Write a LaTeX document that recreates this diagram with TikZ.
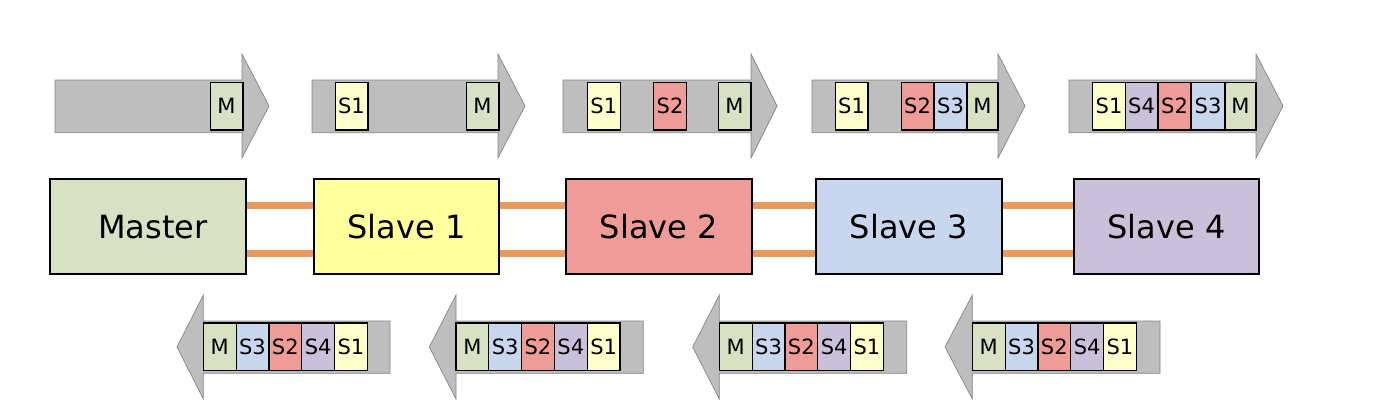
\documentclass[tikz,border=0pt]{standalone}
\usepackage{fontspec}
\setmainfont{DejaVu Sans}
\usetikzlibrary{calc}
\definecolor{cM}{HTML}{D8E1C4}
\definecolor{cSa}{HTML}{FFFFCC}
\definecolor{cSaBox}{HTML}{FFFF9E}
\definecolor{cSb}{HTML}{EF9C98}
\definecolor{cSc}{HTML}{C9D7EE}
\definecolor{cSd}{HTML}{C8C1D9}
\definecolor{arrfill}{HTML}{BEBEBE}
\definecolor{arrline}{HTML}{858585}
\definecolor{link}{HTML}{E89B5C}
\tikzset{
  arr/.style={fill=arrfill,draw=arrline,line width=0.7pt,line join=miter},
  pkt/.style={draw=black,line width=1.2pt,minimum width=32.8pt,minimum height=47.5pt,inner sep=0pt,font=\fontsize{21}{24}\selectfont},
  dev/.style={draw=black,line width=2pt,minimum height=95pt,inner sep=0pt,font=\fontsize{32}{36}\selectfont},
  lnk/.style={draw=link,line width=6.5pt},
}
\begin{document}
\begin{tikzpicture}[x=1pt,y=-1pt]
\useasboundingbox (0,0) rectangle (1380,407);
% ---- top arrows (right-pointing)
\foreach \L/\B/\T in {55/242/269, 312/498/525, 563/751/777, 812/998/1025, 1069/1256/1283}{
  \path[arr] (\L,80) -- (\B,80) -- (\B,54) -- (\T,106) -- (\B,158) -- (\B,132.7) -- (\L,132.7) -- cycle;
}
% ---- bottom arrows (left-pointing)
\foreach \T/\B/\R in {177/203.3/390, 429.3/456/643.3, 692.7/719.3/906.7, 945/972.3/1160}{
  \path[arr] (\R,321) -- (\B,321) -- (\B,295) -- (\T,347) -- (\B,399) -- (\B,373.3) -- (\R,373.3) -- cycle;
}
% ---- top packets
\node[pkt,fill=cM] (a1m) at (226.5,106.3) {M};
\node[pkt,fill=cSa] (a2s1) at (351.5,106.3) {S1};
\node[pkt,fill=cM] (a2m) at (482.5,106.3) {M};
\node[pkt,fill=cSa] (a3s1) at (603.8,106.3) {S1};
\node[pkt,fill=cSb] (a3s2) at (670,106.3) {S2};
\node[pkt,fill=cM] (a3m) at (734.5,106.3) {M};
\node[pkt,fill=cSa] (a4s1) at (851.5,106.3) {S1};
\node[pkt,fill=cSb] (a4s2) at (917.5,106.3) {S2};
\node[pkt,fill=cSc] (a4s3) at (950.5,106.3) {S3};
\node[pkt,fill=cM,minimum width=31pt] (a4m) at (982.5,106.3) {M};
\node[pkt,fill=cSa] (a5s1) at (1109,106.3) {S1};
\node[pkt,fill=cSd] (a5s4) at (1141.5,106.3) {S4};
\node[pkt,fill=cSb] (a5s2) at (1174.5,106.3) {S2};
\node[pkt,fill=cSc] (a5s3) at (1208,106.3) {S3};
\node[pkt,fill=cM,minimum width=31pt] (a5m) at (1240.5,106.3) {M};
% ---- bottom packets
\foreach \n/\s in {1/203.3, 2/456, 3/719.3, 4/972.3}{
  \node[pkt,fill=cM]  (b\n m)  at (\s+16.4,346.7) {M};
  \node[pkt,fill=cSc] (b\n s3) at (\s+49.2,346.7) {S3};
  \node[pkt,fill=cSb] (b\n s2) at (\s+82,346.7) {S2};
  \node[pkt,fill=cSd] (b\n s4) at (\s+114.8,346.7) {S4};
  \node[pkt,fill=cSa] (b\n s1) at (\s+147.6,346.7) {S1};
}
% ---- devices
\node[dev,fill=cM,minimum width=196pt] (master) at (148,226.8) {\hspace*{10pt}Master};
\node[dev,fill=cSaBox,minimum width=185pt] (s1) at (406.5,226.8) {Slave 1};
\node[dev,fill=cSb,minimum width=185.7pt] (s2) at (658.8,226.8) {Slave 2};
\node[dev,fill=cSc,minimum width=185.7pt] (s3) at (908.8,226.8) {Slave 3};
\node[dev,fill=cSd,minimum width=185pt] (s4) at (1166.5,226.8) {Slave 4};
% ---- links
\foreach \a/\b in {master/s1, s1/s2, s2/s3, s3/s4}{
  \draw[lnk] ($(\a.north east)!0.278!(\a.south east)$) -- ($(\b.north west)!0.278!(\b.south west)$);
  \draw[lnk] ($(\a.north east)!0.773!(\a.south east)$) -- ($(\b.north west)!0.773!(\b.south west)$);
}
\end{tikzpicture}
\end{document}
